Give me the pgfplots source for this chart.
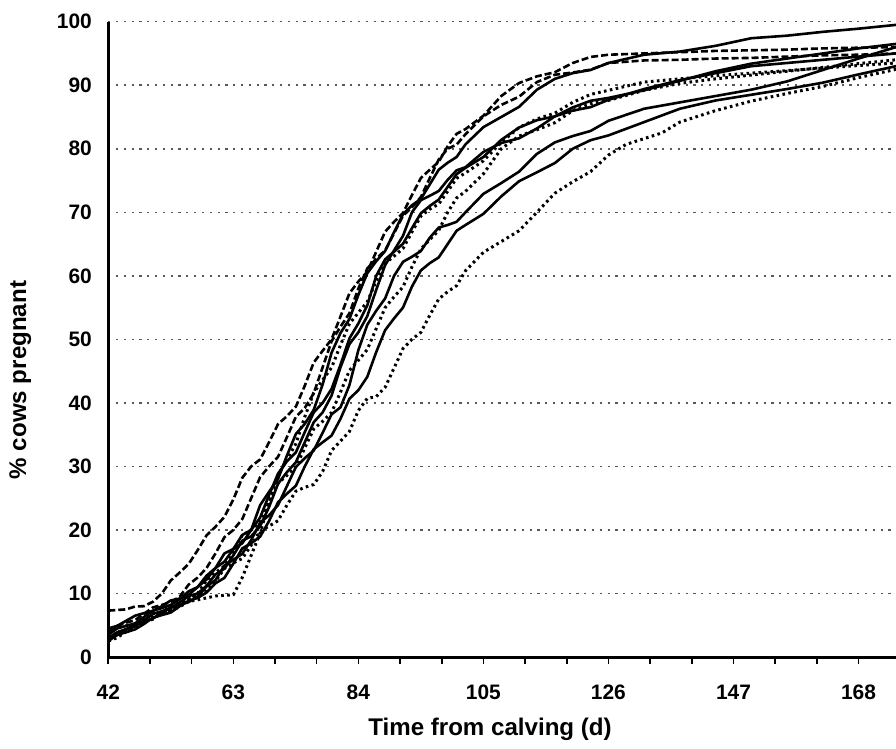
\documentclass[border=0pt]{standalone}
\usepackage{fontspec}
\setmainfont{Liberation Sans}
\usepackage{pgfplots}
\pgfplotsset{compat=1.18}
\begin{document}
\begin{tikzpicture}
\useasboundingbox (-108.3bp,-92bp) rectangle (787.7bp,657bp);
\begin{axis}[
  scale only axis, width=787.7bp, height=635.3bp,
  at={(0,0)}, anchor=south west,
  xmin=42, xmax=174.3, ymin=0, ymax=100,
  axis x line*=bottom, axis y line*=left,
  separate axis lines,
  every outer x axis line/.append style={line width=3bp, black},
  every outer y axis line/.append style={line width=3.4bp, black},
  xtick={42,63,84,105,126,147,168},
  minor xtick={49,56,70,77,91,98,112,119,133,140,154,161,175},
  ytick={0,10,...,100},
  ymajorgrids,
  grid style={line width=1.5bp, black!65, dash pattern=on 2.2bp off 5.6bp},
  tick align=outside,
  major tick length=7bp, minor tick length=7bp,
  xtick style={line width=1.6bp, black},
  ytick style={draw=none},
  /pgf/number format/assume math mode=true,
  ticklabel style={font=\bfseries\fontsize{21}{24}\selectfont},
  xticklabel style={yshift=-17bp, text height=15bp, text depth=0bp},
  yticklabel style={xshift=-6bp},
  xlabel={Time from calving (d)},
  ylabel={\% cows pregnant},
  label style={font=\bfseries\fontsize{24.2}{28}\selectfont},
  xlabel style={at={(axis description cs:0.4846,0)}, anchor=center, yshift=-72bp},
  ylabel style={at={(axis description cs:0,0.436)}, anchor=center, yshift=88bp},
  clip=true,
]
\pgfplotsset{
  solidc/.style={black, line width=2.6bp, line join=round},
  longd/.style={black, line width=2.6bp, dash pattern=on 7bp off 3bp},
  shortd/.style={black, line width=3bp, dash pattern=on 2.6bp off 3.4bp},
}
% S1
\addplot[solidc] coordinates {(42,3.5)(43.5,4.5)(45,4.9)(46.5,5.3)(48,6.3)(49.5,7.3)(51,7.7)(52.5,8.2)(54,9.1)(55.5,10.35)(57,11)(58.5,12.2)(60,14)(61.5,16.3)(63,17)(64.5,17.9)(66,20)(67.5,23.9)(69,26)(70.5,28)(72,31.7)(73.5,35.1)(75,36.7)(76.5,38.9)(78,42.9)(79.5,47.9)(81,51)(82.5,53.2)(84,57)(85.5,60.4)(87,62.3)(88.5,63.9)(90,66.9)(91.5,69.7)(93,71.1)(94.5,72.1)(96,74.4)(97.5,76.7)(99,77.8)(100.5,78.7)(102,80.7)(105,83.4)(108,85)(111,86.6)(114,89.3)(117,91)(120,91.9)(123,92.4)(126,93.5)(132,94.8)(138,95.3)(144,96.2)(150,97.4)(156,97.8)(162,98.4)(168,98.9)(174.3,99.5)};
% S2
\addplot[solidc] coordinates {(42,3)(43.5,3.9)(45,4.4)(46.5,4.8)(48,5.8)(49.5,6.8)(51,7.2)(52.5,7.7)(54,8.6)(55.5,9.6)(57,10)(58.5,11.2)(60,13)(61.5,13.9)(63,16)(64.5,18.3)(66,19)(67.5,20.6)(69,23.6)(70.5,27.25)(72,29.1)(73.5,30.65)(75,33.8)(76.5,36.95)(78,38.5)(79.5,41.15)(81,45.6)(82.5,49.25)(84,51.1)(85.5,53.65)(87,57.8)(88.5,61.7)(90,64)(91.5,66.3)(93,70)(94.5,71.9)(96,72.6)(97.5,73.35)(99,75.1)(100.5,76.6)(102,77.1)(105,79.5)(108,80.9)(111,81.65)(114,83.2)(117,85.1)(120,86)(123,86.55)(126,87.7)(132,89.4)(138,90.8)(144,91.9)(150,93)(156,93.5)(162,94)(168,94.5)(174.3,95)};
% S3
\addplot[solidc] coordinates {(42,3)(43.5,3.45)(45,4.3)(46.5,5.25)(48,5.6)(49.5,6.05)(51,6.9)(52.5,7.85)(54,8.2)(55.5,8.65)(57,9.5)(58.5,11.1)(60,12.1)(61.5,14.4)(63,15.3)(64.5,16.25)(66,18.4)(67.5,21.15)(69,22.3)(70.5,23.9)(72,26.9)(73.5,29.9)(75,31.3)(76.5,32.5)(78,35.3)(79.5,38.2)(81,39.3)(82.5,42.8)(84,48.3)(85.5,52.3)(87,54.5)(88.5,56.45)(90,60)(91.5,62.2)(93,63)(94.5,63.9)(96,66)(97.5,67.6)(99,68)(100.5,68.5)(102,70)(105,72.9)(108,74.6)(111,76.4)(114,79.2)(117,81)(120,82)(123,82.8)(126,84.4)(132,86.3)(138,87.3)(144,88.3)(150,89.3)(156,90.6)(162,92.4)(168,94.2)(174.3,96)};
% S4
\addplot[solidc] coordinates {(42,2.5)(43.5,3.5)(45,3.9)(46.5,4.35)(48,5.2)(49.5,6.2)(51,6.6)(52.5,7)(54,8)(55.5,8.85)(57,9.3)(58.5,10.15)(60,11.6)(61.5,12.45)(63,14.7)(64.5,17.1)(66,17.9)(67.5,18.95)(69,21.4)(70.5,24.35)(72,25.7)(73.5,26.95)(75,30)(76.5,32.7)(78,33.8)(79.5,34.85)(81,37.5)(82.5,40.65)(84,42)(85.5,44.1)(87,48)(88.5,51.45)(90,53.3)(91.5,55)(93,58.3)(94.5,60.85)(96,62)(97.5,62.9)(99,65)(100.5,67.1)(102,68)(105,69.75)(108,72.5)(111,74.9)(114,76.3)(117,77.75)(120,80)(123,81.35)(126,82.1)(132,84.2)(138,86.3)(144,87.6)(150,88.5)(156,89.4)(162,90.4)(168,91.7)(174.3,93)};
% S5
\addplot[solidc] coordinates {(42,4.5)(43.5,4.9)(45,5.7)(46.5,6.5)(48,6.9)(49.5,7.25)(51,8)(52.5,8.9)(54,9.2)(55.5,9.8)(57,11)(58.5,12.8)(60,14)(61.5,15)(63,17)(64.5,19.2)(66,20)(67.5,21.95)(69,25.5)(70.5,28.85)(72,30.8)(73.5,32.2)(75,35.4)(76.5,38.5)(78,40)(79.5,42.2)(81,46)(82.5,50.15)(84,52.5)(85.5,55.35)(87,60)(88.5,62.6)(90,63.8)(91.5,65.05)(93,67.5)(94.5,69.85)(96,71)(97.5,72)(99,74)(100.5,76)(102,77)(105,78.7)(108,81.4)(111,83.35)(114,84.5)(117,85.1)(120,86.5)(123,87.55)(126,88)(132,89.2)(138,90.7)(144,92.2)(150,93.4)(156,94.2)(162,95)(168,95.8)(174.3,96.5)};
% D1
\addplot[longd] coordinates {(42,7.3)(43.5,7.4)(45,7.5)(46.5,7.95)(48,8)(49.5,8.7)(51,10)(52.5,12.05)(54,13.3)(55.5,14.65)(57,16.8)(58.5,19.15)(60,20.5)(61.5,22.05)(63,24.8)(64.5,28.2)(66,30)(67.5,31.1)(69,33.8)(70.5,36.65)(72,37.9)(73.5,39.4)(75,42.7)(76.5,46.35)(78,48.2)(79.5,50)(81,53.6)(82.5,57.25)(84,59.1)(85.5,60.65)(87,63.8)(88.5,66.95)(90,68.5)(91.5,69.9)(93,72.7)(94.5,75.4)(96,76.7)(97.5,77.95)(99,80.4)(100.5,82.35)(102,83.1)(105,85.2)(108,88.3)(111,90.35)(114,91.4)(117,92.05)(120,93.5)(123,94.45)(126,94.8)(132,95)(138,95.2)(144,95.4)(150,95.5)(156,95.6)(162,95.8)(168,95.9)(174.3,96)};
% D2
\addplot[longd] coordinates {(42,4)(43.5,4.9)(45,5.4)(46.5,5.8)(48,6.8)(49.5,7.8)(51,8.2)(52.5,8.65)(54,9.5)(55.5,11.4)(57,12.5)(58.5,14)(60,16.3)(61.5,18.85)(63,20)(64.5,21.7)(66,25)(67.5,28.3)(69,30)(70.5,31.5)(72,34.6)(73.5,37.8)(75,39.2)(76.5,41.5)(78,45.6)(79.5,49.7)(81,52)(82.5,54.1)(84,58)(85.5,61.15)(87,62.7)(88.5,64)(90,66.7)(91.5,69.45)(93,70.8)(94.5,72.4)(96,75.4)(97.5,78.3)(99,80)(100.5,80.65)(102,82.3)(105,85.1)(108,86.9)(111,88.2)(114,90.5)(117,91.65)(120,92)(123,92.45)(126,93.5)(132,93.9)(138,94)(144,94.2)(150,94.3)(156,94.5)(162,94.7)(168,94.8)(174.3,95)};
% D3
\addplot[shortd] coordinates {(42,2.5)(43.5,3.05)(45,4)(46.5,5.05)(48,5.5)(49.5,5.95)(51,7)(52.5,8.05)(54,8.5)(55.5,9.05)(57,10)(58.5,12.05)(60,13.3)(61.5,14.3)(63,16.7)(64.5,19.15)(66,20)(67.5,21.35)(69,24.3)(70.5,27.35)(72,28.6)(73.5,29.95)(75,32.9)(76.5,35.9)(78,37.1)(79.5,38.5)(81,41.7)(82.5,45.1)(84,46.7)(85.5,48.4)(87,51.7)(88.5,55)(90,56.7)(91.5,58.25)(93,61.4)(94.5,64.25)(96,65.7)(97.5,67.15)(99,70)(100.5,72.25)(102,73.3)(105,76.05)(108,80)(111,82)(114,83)(117,84.1)(120,86)(123,87.1)(126,87.6)(132,89.2)(138,90.3)(144,91)(150,91.6)(156,92.2)(162,92.8)(168,93.4)(174.3,94)};
% D4
\addplot[shortd] coordinates {(42,4)(43.5,4.65)(45,4.9)(46.5,5.2)(48,5.9)(49.5,6.8)(51,7.1)(52.5,7.3)(54,7.9)(55.5,8.75)(57,9)(58.5,9.3)(60,9.6)(61.5,9.7)(63,9.8)(64.5,12.5)(66,16)(67.5,19.5)(69,24.4)(70.5,28.55)(72,31.1)(73.5,33.55)(75,37.8)(76.5,41.6)(78,43.6)(79.5,45.55)(81,49.1)(82.5,52.45)(84,54.2)(85.5,55.9)(87,59.2)(88.5,61.95)(90,63.1)(91.5,64.3)(93,66.9)(94.5,69.4)(96,70.5)(97.5,71.3)(99,73.3)(100.5,75.35)(102,76.2)(105,78.1)(108,81)(111,83.35)(114,84.7)(117,85.6)(120,87.3)(123,88.55)(126,89.2)(132,90.5)(138,91)(144,91.5)(150,91.9)(156,92.3)(162,92.7)(168,93.1)(174.3,93.5)};
% D5
\addplot[shortd] coordinates {(42,3)(43.5,3.85)(45,4.3)(46.5,4.65)(48,5.6)(49.5,6.55)(51,6.9)(52.5,7.4)(54,8.3)(55.5,9.25)(57,9.6)(58.5,10.45)(60,11.9)(61.5,13.95)(63,14.8)(64.5,15.5)(66,17.6)(67.5,19.8)(69,20.6)(70.5,21.45)(72,23.9)(73.5,26.1)(75,26.7)(76.5,27.15)(78,29.2)(79.5,32.5)(81,34)(82.5,35.5)(84,38.8)(85.5,40.7)(87,41)(88.5,42.45)(90,45.5)(91.5,48.55)(93,50)(94.5,51.1)(96,53.8)(97.5,56.35)(99,57.5)(100.5,58.45)(102,60.8)(105,63.7)(108,65.4)(111,67.1)(114,70)(117,73)(120,74.8)(123,76.4)(126,79)(129,80.7)(132,81.6)(135,82.5)(138,84.2)(144,86)(150,87.5)(156,88.7)(162,89.8)(168,91.2)(174.3,92.5)};
\end{axis}
\end{tikzpicture}
\end{document}
